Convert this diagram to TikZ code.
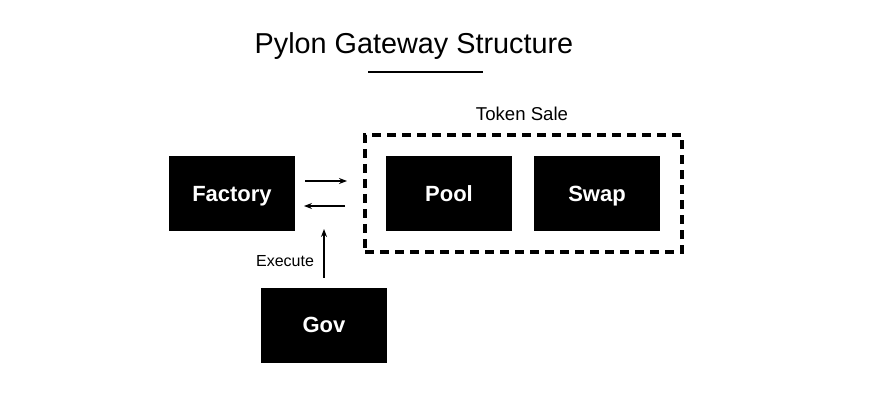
\documentclass[tikz,border=0pt]{standalone}
\usepackage{fontspec}
\setmainfont{Liberation Sans}
\usetikzlibrary{arrows.meta}
\begin{document}
\begin{tikzpicture}[x=1pt,y=-1pt,
  blk/.style={fill=black,text=white,font=\fontsize{22}{24}\selectfont\bfseries,
    text height=15.8pt,text depth=0pt,
    minimum width=126pt,minimum height=75pt,inner sep=0pt,outer sep=0pt,anchor=center},
  arr/.style={line width=1.4pt,-{Stealth[length=8pt,width=6pt]}},
  lbl/.style={font=\fontsize{16}{18}\selectfont,inner sep=0pt}]
\useasboundingbox (0,0) rectangle (871,401);
\node[lbl,font=\fontsize{28.8}{32}\selectfont,anchor=base] (title) at (414,54) {Pylon Gateway Structure};
\draw[line width=2pt] (368,72) -- (483,72);
\node[draw,line width=4.5pt,dash pattern=on 9pt off 6pt,minimum width=317pt,minimum height=117pt,
  inner sep=0pt,outer sep=0pt] (sale) at (523.5,193.5) {};
\node[lbl,font=\fontsize{18.6}{20}\selectfont,anchor=base] (salelbl) at (522,121) {Token Sale};
\node[blk] (fac) at (232,193.5) {Factory};
\node[blk] (pool) at (449,193.5) {Pool};
\node[blk] (swap) at (597,193.5) {Swap};
\node[blk] (gov) at (324,325) {Gov};
\draw[arr] ([xshift=10pt,yshift=12.5pt]fac.east) -- ([xshift=-18pt,yshift=12.5pt]sale.west);
\draw[arr] ([xshift=-20pt,yshift=-12.5pt]sale.west) -- ([xshift=9pt,yshift=-12.5pt]fac.east);
\draw[arr] ([yshift=10pt]gov.north) -- ([yshift=2pt]gov.north |- fac.south);
\node[lbl,anchor=base] (exec) at (285,266) {Execute};
\end{tikzpicture}
\end{document}
